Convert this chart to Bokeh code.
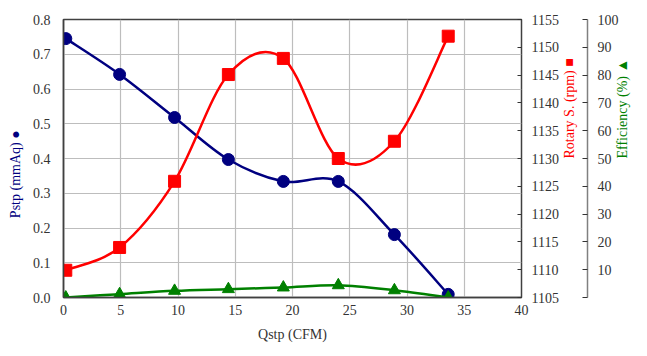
import math
from bokeh.plotting import figure
from bokeh.models import Range1d, LinearAxis, FixedTicker, NumeralTickFormatter, ColumnDataSource
from bokeh.embed import file_html
from bokeh.resources import INLINE

# ---- data ----
qstp = [0.2, 4.9, 9.7, 14.4, 19.2, 24.0, 28.9, 33.6]
pstp = [0.745, 0.642, 0.518, 0.397, 0.334, 0.334, 0.181, 0.009]
rotary = [1109.9, 1114.0, 1125.9, 1145.1, 1148.0, 1130.0, 1133.1, 1152.0]
efficiency = [0.0, 1.2, 2.4, 3.0, 3.6, 4.4, 2.6, 0.0]

x_ticks = [0, 5, 10, 15, 20, 25, 30, 35, 40]
p_ticks = [0.0, 0.1, 0.2, 0.3, 0.4, 0.5, 0.6, 0.7, 0.8]
r_ticks = [1105, 1110, 1115, 1120, 1125, 1130, 1135, 1140, 1145, 1150, 1155]
e_ticks = [0, 10, 20, 30, 40, 50, 60, 70, 80, 90, 100]

FONT = "Liberation Serif"


def smooth(xs, ys):
    """Bezier segments (Catmull-Rom style) through the data points."""
    n = len(xs)
    d = dict(x0=[], y0=[], x1=[], y1=[], cx0=[], cy0=[], cx1=[], cy1=[])
    for i in range(n - 1):
        a = max(i - 1, 0)
        b = min(i + 2, n - 1)
        d["x0"].append(xs[i]); d["y0"].append(ys[i])
        d["x1"].append(xs[i + 1]); d["y1"].append(ys[i + 1])
        d["cx0"].append(xs[i] + (xs[i + 1] - xs[a]) / 6)
        d["cy0"].append(ys[i] + (ys[i + 1] - ys[a]) / 6)
        d["cx1"].append(xs[i + 1] - (xs[b] - xs[i]) / 6)
        d["cy1"].append(ys[i + 1] - (ys[b] - ys[i]) / 6)
    return ColumnDataSource(d)


p = figure(width=640, height=350, output_backend="svg", toolbar_location=None,
           x_range=Range1d(0, 40), y_range=Range1d(0, 0.8),
           min_border_left=63, min_border_right=118, min_border_top=19, min_border_bottom=53)
p.background_fill_color = "white"
p.border_fill_color = "white"
p.outline_line_color = "#404040"
p.outline_line_width = 1.5

p.extra_y_ranges = {"rot": Range1d(1105, 1155), "eff": Range1d(0, 100)}

# grids
p.xgrid.ticker = FixedTicker(ticks=x_ticks)
p.ygrid.ticker = FixedTicker(ticks=p_ticks)
for g in (p.xgrid, p.ygrid):
    g.grid_line_color = "#bdbdbd"
    g.grid_line_width = 1.2

# bottom axis
xa = p.xaxis[0]
xa.ticker = FixedTicker(ticks=x_ticks)
xa.axis_label = "Qstp (CFM)"
xa.major_label_standoff = 7
xa.axis_label_standoff = 9

# left axis
ya = p.yaxis[0]
ya.ticker = FixedTicker(ticks=p_ticks)
ya.formatter = NumeralTickFormatter(format="0.0")
ya.axis_label = "Pstp (mmAq)  \u25CF" + "\u00a0" * 8
ya.axis_label_text_color = "#000080"
ya.major_label_standoff = 13
ya.axis_label_standoff = 7

# right axes
ra = LinearAxis(y_range_name="rot", ticker=FixedTicker(ticks=r_ticks),
                axis_label="Rotary S. (rpm) \u25A0", bounds=(1084.5, 1155))
ra.axis_label_text_color = "#ff0000"
ra.major_label_standoff = 10
ra.axis_label_standoff = 8
ra.major_tick_in = 4
ra.major_tick_out = 0
ra.axis_line_color = None
p.add_layout(ra, "right")

ea = LinearAxis(y_range_name="eff", ticker=FixedTicker(ticks=e_ticks),
                axis_label="Efficiency (%) \u25B2", bounds=(-36, 100),
                major_label_overrides={0: ""})
ea.axis_label_text_color = "#008000"
ea.major_label_standoff = 10
ea.axis_label_standoff = 1
ea.major_tick_in = 5
ea.major_tick_out = 0
ea.axis_line_color = "#808080"
ea.axis_line_width = 1.5
p.add_layout(ea, "right")

for ax in (ra, ea):
    try:
        ax.axis_label_orientation = math.pi / 2
    except Exception:
        pass

for ax in (xa, ya, ra, ea):
    ax.major_label_text_font = FONT
    ax.major_label_text_font_size = "14px"
    ax.major_label_text_color = "#333333"
    ax.axis_label_text_font = FONT
    ax.axis_label_text_font_size = "14px"
    ax.axis_label_text_font_style = "normal"
    ax.minor_tick_line_color = None
    ax.major_tick_line_color = "#333333"
for ax in (xa, ya):
    ax.major_tick_in = 0
    ax.major_tick_out = 0
    ax.axis_line_color = "#404040"
    ax.axis_line_width = 1.5
xa.axis_label_text_color = "#333333"

# series
p.bezier("x0", "y0", "x1", "y1", "cx0", "cy0", "cx1", "cy1",
         source=smooth(qstp, pstp), line_color="#000080", line_width=2.5)
p.scatter(qstp, pstp, marker="circle", size=12, fill_color="#000080", line_color="#000080")

p.bezier("x0", "y0", "x1", "y1", "cx0", "cy0", "cx1", "cy1",
         source=smooth(qstp, rotary), line_color="#ff0000", line_width=2.5, y_range_name="rot")
p.scatter(qstp, rotary, marker="square", size=12, fill_color="#ff0000", line_color="#ff0000",
          y_range_name="rot")

p.bezier("x0", "y0", "x1", "y1", "cx0", "cy0", "cx1", "cy1",
         source=smooth(qstp, efficiency), line_color="#008000", line_width=2.5, y_range_name="eff")
p.scatter(qstp, efficiency, marker="triangle", size=12, fill_color="#008000", line_color="#008000",
          y_range_name="eff")

open("out.html", "w").write(file_html(p, INLINE))
